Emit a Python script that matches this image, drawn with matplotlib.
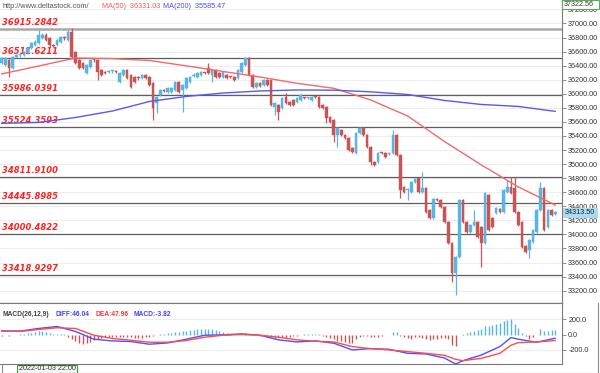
import matplotlib
matplotlib.use('Agg')
import matplotlib.pyplot as plt
from matplotlib.patches import Rectangle
from matplotlib.lines import Line2D
import numpy as np

# ---------------- data ----------------
opens = [36438, 36410, 36480, 36367, 36530, 36545, 36552, 36580, 36651, 36694,
         36723, 36794, 36836, 36794, 36694, 36694, 36737, 36800, 36765, 36879,
         36595, 36481, 36438, 36296, 36381, 36490, 36481, 36339, 36310, 36305,
         36320, 36315, 36168, 36267, 36339, 36267, 36239, 36230, 36225, 36267,
         36239, 36154, 35869, 35983, 36060, 36026, 36026, 36054, 36168, 36054,
         36083, 36168, 36255, 36239, 36267, 36300, 36367, 36267, 36339, 36296,
         36239, 36267, 36245, 36239, 36225, 36310, 36410, 36509, 36267, 36097,
         36150, 36125, 36196, 36196, 35812, 35841, 35798, 35954, 35883, 35912,
         35883, 35912, 35945, 35935, 35912, 35955, 35954, 35841, 35812, 35670,
         35627, 35414, 35485, 35414, 35372, 35229, 35158, 35442, 35514, 35414,
         35244, 35030, 35030, 35160, 35158, 35150, 35158, 35414, 35130, 34675,
         34625, 34603, 34746, 34802, 34603, 34660, 34348, 34234, 34500, 34490,
         34390, 34177, 33878, 33451, 33679, 34490, 34177, 34035, 34134, 34177,
         34106, 33878, 34561, 34234, 34305, 34362, 34319, 34603, 34675, 34660,
         34319, 34177, 33836, 33779, 33893, 34035, 34348, 34660, 34106, 34348, 34290]
highs = [36530, 36530, 36500, 36540, 36570, 36580, 36615, 36670, 36740, 36760,
         36908, 36860, 36860, 36810, 36710, 36780, 36825, 36815, 36908, 36936,
         36610, 36495, 36455, 36425, 36495, 36510, 36495, 36355, 36330, 36335,
         36345, 36335, 36310, 36355, 36355, 36280, 36255, 36250, 36285, 36285,
         36255, 36170, 35970, 36070, 36075, 36100, 36100, 36185, 36185, 36140,
         36240, 36255, 36296, 36310, 36325, 36315, 36438, 36355, 36355, 36310,
         36325, 36285, 36260, 36255, 36355, 36455, 36523, 36523, 36280, 36170,
         36170, 36210, 36210, 36210, 35885, 35855, 35955, 36011, 35900, 35925,
         35955, 36000, 35960, 35960, 35970, 35970, 35970, 35855, 35825, 35685,
         35640, 35530, 35500, 35430, 35385, 35245, 35458, 35530, 35530, 35430,
         35260, 35045, 35175, 35175, 35175, 35175, 35485, 35430, 35145, 34690,
         34660, 34760, 34800, 34817, 34888, 34675, 34362, 34518, 34515, 34504,
         34405, 34190, 33893, 33695, 34504, 34504, 34190, 34150, 34348, 34190,
         34120, 34603, 34575, 34250, 34390, 34376, 34646, 34774, 34817, 34817,
         34334, 34190, 33850, 33935, 34077, 34362, 34746, 34675, 34362, 34362, 34335]
lows = [36420, 36390, 36240, 36350, 36510, 36525, 36535, 36565, 36635, 36680,
        36705, 36780, 36750, 36670, 36660, 36680, 36720, 36770, 36750, 36500,
        36420, 36350, 36350, 36280, 36365, 36455, 36196, 36250, 36285, 36290,
        36300, 36290, 36150, 36250, 36210, 36080, 36150, 36200, 36210, 36210,
        36110, 35627, 35727, 35970, 36030, 36010, 36010, 36040, 36010, 35741,
        36070, 36150, 36240, 36225, 36255, 36280, 36280, 36168, 36225, 36225,
        36225, 36210, 36220, 36180, 36210, 36295, 36395, 36250, 36080, 36080,
        36095, 36110, 36110, 35825, 35698, 35627, 35780, 35855, 35825, 35825,
        35870, 35900, 35920, 35920, 35900, 35935, 35800, 35780, 35585, 35585,
        35315, 35244, 35400, 35355, 35185, 35160, 35140, 35428, 35400, 35230,
        34988, 34975, 35015, 35140, 35085, 35135, 35140, 35115, 34518, 34590,
        34490, 34590, 34730, 34590, 34590, 34305, 34220, 34220, 34470, 34376,
        34163, 33865, 33323, 33138, 33665, 34163, 34020, 34020, 34120, 33950,
        33537, 33865, 34050, 34090, 34290, 34305, 34305, 34590, 34575, 34305,
        34120, 33807, 33736, 33665, 33880, 34020, 34334, 34050, 34090, 34262, 34270]
closes = [36509, 36509, 36367, 36523, 36545, 36555, 36595, 36651, 36723, 36737,
          36836, 36836, 36765, 36694, 36680, 36765, 36808, 36790, 36879, 36523,
          36438, 36367, 36367, 36410, 36481, 36475, 36310, 36267, 36300, 36315,
          36325, 36305, 36296, 36339, 36225, 36097, 36168, 36220, 36267, 36225,
          36125, 35798, 35954, 36054, 36045, 36083, 36083, 36168, 36026, 36125,
          36225, 36239, 36270, 36296, 36310, 36295, 36296, 36339, 36239, 36239,
          36310, 36225, 36235, 36196, 36339, 36438, 36509, 36267, 36097, 36154,
          36110, 36196, 36125, 35841, 35869, 35741, 35940, 35869, 35841, 35841,
          35940, 35983, 35935, 35945, 35954, 35950, 35812, 35798, 35656, 35599,
          35414, 35514, 35414, 35372, 35201, 35173, 35442, 35514, 35414, 35244,
          35030, 34988, 35158, 35155, 35101, 35160, 35414, 35130, 34632, 34603,
          34640, 34746, 34788, 34603, 34660, 34319, 34234, 34504, 34485, 34390,
          34177, 33878, 33451, 33679, 34490, 34177, 34035, 34134, 34177, 33964,
          33878, 34589, 34063, 34106, 34376, 34319, 34632, 34675, 34589, 34319,
          34134, 33821, 33750, 33921, 34063, 34348, 34660, 34063, 34348, 34277, 34313.5]

ma_idx = [0, 10, 20, 30, 40, 50, 60, 70, 80, 90, 100, 110, 120, 130, 140, 150]
ma50 = [36282, 36395, 36509, 36500, 36474, 36398, 36317, 36239, 36149, 36078,
        35912, 35684, 35321, 34987, 34675, 34418]
ma200 = [35580, 35592, 35663, 35755, 35890, 35962, 36011, 36040, 36054, 36051,
         36028, 35990, 35905, 35848, 35820, 35750]

levels = [36915.2842, 36511.6211, 35986.0391, 35524.3593,
          34811.9100, 34445.8985, 34000.4822, 33418.9297]

macd_hist = [-17, -9, -17, -9, -4, 2, 9, 17, 26, 39, 48, 48, 35, 17, 13, 13, 13, 9,
             -26, -52, -87, -105, -122, -113, -96, -70, -52, -44, -35, -35, -30, -26,
             -26, -26, -30, -35, -39, -48, -44, -35, -26, -13, -9, 4, 9, 17, 26, 35,
             39, 48, 52, 61, 65, 70, 74, 78, 74, 70, 61, 48, 31, 17, 9, 0, -9, -4,
             17, 13, -2, -9, -17, -22, -26, -35, -48, -35, -30, -39, -26, -17, -17,
             -9, 2, 9, 9, 13, 4, -17, -35, -48, -61, -78, -87, -92, -105, -113, -61,
             -26, -17, -13, -30, -35, -26, -17, -9, 0, 39, 31, -17, -35, -44, -52,
             -35, -26, -44, -61, -70, -61, -52, -44, -44, -52, -135, -148, -2, 9,
             17, 35, 48, 61, 74, 105, 113, 122, 135, 153, 179, 192, 201, 140, 83,
             17, -17, -52, -35, -9, 78, 52, 52, 61, 61]
macd_idx = [0, 5, 10, 15, 20, 25, 30, 35, 40, 45, 50, 55, 60, 65, 70, 75, 80, 85,
            90, 95, 100, 105, 110, 115, 120, 123, 125, 130, 135, 138, 140, 145, 150]
diff = [46, 45, 79, 105, 40, -61, -83, -91, -126, -109, -61, -9, -4, 9, -9, -69,
        -96, -83, -113, -200, -183, -192, -244, -253, -305, -383, -340, -266, -157,
        -40, -61, -100, -48]
dea = [48, 40, 66, 88, 79, -9, -52, -74, -100, -100, -78, -35, -9, 0, -9, -35,
       -69, -87, -96, -157, -183, -200, -222, -244, -270, -322, -340, -309, -244,
       -140, -105, -96, -78]

price_ticks = list(range(33200, 37201, 200))
date_label = '2022-01-03 22:00'

# ---------------- style ----------------
UP = '#58b6e6'
DN = '#c85454'
SANS = ['Liberation Sans', 'DejaVu Sans']
FS = 5.2
W, H = 600, 373

fig = plt.figure(figsize=(6, 3.73), dpi=100)
fig.patch.set_facecolor('white')

def fx(px):
    return px / W

def fy(py):
    return 1 - py / H

ax = fig.add_axes([0, fy(303), fx(562), 303 / H])
mx = fig.add_axes([0, fy(364), fx(562), (364 - 303) / H])

XMIN, XMAX = -0.46, 151.84
ax.set_xlim(XMIN, XMAX)
ax.set_ylim(33024, 37334)

# grid
for t in price_ticks:
    ax.axhline(t, color='#ededed', lw=0.8, zorder=0)

# levels
for k, v in enumerate(levels):
    if k == 0:
        ax.axhline(v, color='#a8a8a8', lw=1.8, zorder=1)
    else:
        ax.axhline(v, color='#5e5e5e', lw=0.9, zorder=1)
    ax.annotate(f'{v:.4f}', xy=(0.0, v), xycoords=('axes fraction', 'data'),
                xytext=(1.5, 1.6), textcoords='offset points', ha='left', va='bottom',
                color='#ff2222', fontsize=6.0, fontweight='bold', fontstyle='italic',
                family='DejaVu Sans', zorder=2)

# candles
for i in range(len(opens)):
    o, h, l, c = opens[i], highs[i], lows[i], closes[i]
    col = UP if c >= o else DN
    ax.vlines(i, l, h, color=col, lw=0.9, zorder=3)
    lo, hi = min(o, c), max(o, c)
    if hi - lo < 14:
        hi = lo + 14
    ax.add_patch(Rectangle((i - 0.36, lo), 0.72, hi - lo, facecolor=col,
                           edgecolor=col, lw=0.3, zorder=4))

ax.plot(ma_idx, ma50, color='#f26a6a', lw=1.0, zorder=5)
ax.plot(ma_idx, ma200, color='#5858f2', lw=1.0, zorder=5)

ax.yaxis.tick_right()
ax.set_yticks(price_ticks)
ax.set_yticklabels([f'{t:.2f}' for t in price_ticks])
ax.tick_params(axis='y', length=3, width=0.6, color='#808080', labelsize=FS,
               pad=1.5, labelcolor='#333333')
for lab in ax.get_yticklabels():
    lab.set_family(SANS)
ax.set_xticks([])
for s in ['top', 'left']:
    ax.spines[s].set_visible(False)
ax.spines['right'].set_color('#7a7a7a')
ax.spines['bottom'].set_color('#9a9a9a')
ax.spines['right'].set_linewidth(0.8)
ax.spines['bottom'].set_linewidth(1.0)

# MACD panel
mx.set_xlim(XMIN, XMAX)
mx.set_ylim(-383, 410)
for t in [200, -200]:
    mx.axhline(t, color='#ededed', lw=0.8, zorder=0)
hcols = [UP if v >= 0 else DN for v in macd_hist]
mx.vlines(range(len(macd_hist)), 0, macd_hist, colors=hcols, lw=1.0, zorder=2)
mx.plot(macd_idx, diff, color='#5050ff', lw=1.0, zorder=3)
mx.plot(macd_idx, dea, color='#ff4c4c', lw=1.0, zorder=3)
mx.yaxis.tick_right()
mx.set_yticks([200, 0, -200])
mx.set_yticklabels(['200.0', '0.0', '-200.0'])
mx.tick_params(axis='y', length=3, width=0.6, color='#808080', labelsize=FS,
               pad=1.5, labelcolor='#333333')
for lab in mx.get_yticklabels():
    lab.set_family(SANS)
mx.set_xticks([])
mx.spines['left'].set_visible(False)
for s in ['top', 'bottom', 'right']:
    mx.spines[s].set_color('#7a7a7a')
    mx.spines[s].set_linewidth(0.8)

# header texts
fig.text(fx(2.5), fy(6), 'http://www.deltastock.com/', fontsize=5.3, color='#555555',
         va='center', ha='left', family=SANS)
fig.text(fx(102), fy(6), 'MA(50)  36331.03', fontsize=FS, color='#f25a5a',
         va='center', ha='left', family=SANS)
fig.text(fx(163), fy(6), 'MA(200)  35585.47', fontsize=FS, color='#4a4af0',
         va='center', ha='left', family=SANS)

# MACD header
fig.text(fx(2.5), fy(315), 'MACD(26,12,9)', fontsize=4.8, color='#404040',
         va='center', ha='left', family=SANS, fontweight='bold')
fig.text(fx(56), fy(315), 'DIFF:46.04', fontsize=4.8, color='#4040ff',
         va='center', ha='left', family=SANS, fontweight='bold')
fig.text(fx(95), fy(315), 'DEA:47.96', fontsize=4.8, color='#ff3030',
         va='center', ha='left', family=SANS, fontweight='bold')
fig.text(fx(133), fy(315), 'MACD:-3.82', fontsize=4.8, color='#4040ff',
         va='center', ha='left', family=SANS, fontweight='bold')

def fig_rect(x0, y0, x1, y1, fc, ec, lw=0.8, z=10):
    fig.add_artist(Rectangle((fx(x0), fy(y1)), fx(x1) - fx(x0), fy(y0) - fy(y1),
                             transform=fig.transFigure, facecolor=fc, edgecolor=ec,
                             lw=lw, zorder=z))

def fig_line(x0, y0, x1, y1, col='#8a8a8a', lw=0.8):
    fig.add_artist(Line2D([fx(x0), fx(x1)], [fy(y0), fy(y1)],
                          transform=fig.transFigure, color=col, lw=lw, zorder=9))

# top-right box
fig_rect(562, 0.5, 599, 8.5, 'white', '#5aaa5a')
fig.text(fx(564), fy(4.5), '37322.56', fontsize=FS, color='#333333', va='center',
         ha='left', family=SANS, zorder=11)

# current price box
py = 23.5 + (37000 - closes[-1]) / 14.225
fig_rect(563, py - 4.5, 597, py + 4.5, '#a9dcf4', '#a9dcf4')
fig.text(fx(565), fy(py), f'{closes[-1]:.2f}', fontsize=FS, color='#222222',
         va='center', ha='left', family=SANS, zorder=11)

# bottom strip
fig_line(0, 372.5, 597.5, 372.5)
fig_line(597.5, 303, 597.5, 373)
fig_line(2, 364, 2, 372.5)
fig_rect(17, 364.5, 77, 373, '#f5f5f5', '#3c9b3c')
fig.text(fx(19), fy(368.8), date_label, fontsize=FS, color='#333333', va='center',
         ha='left', family=SANS, zorder=11)

fig.savefig('out.png', dpi=100, facecolor='white')
